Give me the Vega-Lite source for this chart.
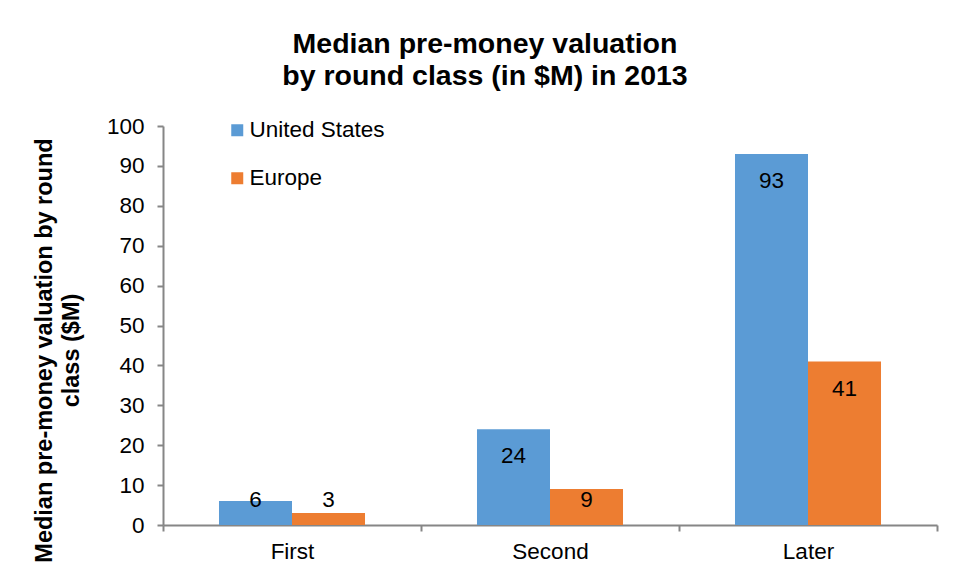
{
  "$schema": "https://vega.github.io/schema/vega-lite/v6.json",
  "width": 774,
  "height": 399,
  "autosize": {"type": "none"},
  "padding": {"left": 163, "top": 126, "right": 17, "bottom": 54},
  "background": "white",
  "title": {
    "text": ["Median pre-money valuation", "by round class (in $M) in 2013"],
    "anchor": "middle",
    "dx": -65,
    "fontSize": 28.5,
    "fontWeight": "bold",
    "font": "Liberation Sans",
    "color": "#000000",
    "lineHeight": 32,
    "baseline": "bottom",
    "offset": -4
  },
  "data": {
    "values": [
      {"round": "First", "region": "United States", "value": 6},
      {"round": "First", "region": "Europe", "value": 3},
      {"round": "Second", "region": "United States", "value": 24},
      {"round": "Second", "region": "Europe", "value": 9},
      {"round": "Later", "region": "United States", "value": 93},
      {"round": "Later", "region": "Europe", "value": 41}
    ]
  },
  "encoding": {
    "x": {
      "field": "round",
      "type": "nominal",
      "sort": ["First", "Second", "Later"],
      "scale": {"paddingInner": 0, "paddingOuter": 0},
      "axis": {
        "title": null,
        "labelAngle": 0,
        "labelPadding": 9,
        "tickBand": "extent"
      }
    },
    "xOffset": {
      "field": "region",
      "type": "nominal",
      "sort": ["United States", "Europe"],
      "scale": {"paddingInner": 0, "paddingOuter": 0.767}
    }
  },
  "layer": [
    {
      "mark": {"type": "bar"},
      "encoding": {
        "y": {
          "field": "value",
          "type": "quantitative",
          "scale": {"domain": [0, 100]},
          "axis": {
            "values": [0, 10, 20, 30, 40, 50, 60, 70, 80, 90, 100],
            "labelOverlap": false,
            "grid": false,
            "labelPadding": 13,
            "title": ["Median pre-money valuation by round", "class ($M)"],
            "titleFont": "Liberation Sans",
            "titleFontSize": 23.5,
            "titleFontWeight": "bold",
            "titleColor": "#000000",
            "titleX": -131,
            "titleY": 224,
            "titleAngle": -90,
            "titleAlign": "center",
            "titleBaseline": "top",
            "titleLineHeight": 27
          }
        },
        "color": {
          "field": "region",
          "type": "nominal",
          "sort": ["United States", "Europe"],
          "scale": {"domain": ["United States", "Europe"], "range": ["#5B9BD5", "#ED7D31"]},
          "legend": {
            "title": null,
            "orient": "none",
            "legendX": 63,
            "legendY": -7,
            "symbolType": "square",
            "symbolSize": 144,
            "symbolStrokeWidth": 0,
            "labelFontSize": 22.5,
            "labelFont": "Liberation Sans",
            "labelColor": "#000000",
            "labelOffset": 1,
            "rowPadding": 25
          }
        }
      }
    },
    {
      "transform": [{"calculate": "max(datum.value - 6.8, 6.3)", "as": "labelPos"}],
      "mark": {"type": "text", "fontSize": 22.5, "font": "Liberation Sans", "color": "#000000", "baseline": "middle"},
      "encoding": {
        "y": {
          "field": "labelPos",
          "type": "quantitative",
          "axis": {
            "values": [0, 10, 20, 30, 40, 50, 60, 70, 80, 90, 100],
            "labelOverlap": false,
            "grid": false,
            "labelPadding": 13,
            "title": ["Median pre-money valuation by round", "class ($M)"],
            "titleFont": "Liberation Sans",
            "titleFontSize": 23.5,
            "titleFontWeight": "bold",
            "titleColor": "#000000",
            "titleX": -131,
            "titleY": 224,
            "titleAngle": -90,
            "titleAlign": "center",
            "titleBaseline": "top",
            "titleLineHeight": 27
          }
        },
        "text": {"field": "value", "type": "quantitative"}
      }
    }
  ],
  "config": {
    "view": {"stroke": null},
    "axis": {
      "labelFontSize": 22.5,
      "labelFont": "Liberation Sans",
      "labelColor": "#000000",
      "tickSize": 6,
      "tickColor": "#868686",
      "tickWidth": 2,
      "domainColor": "#868686",
      "domainWidth": 2,
      "grid": false
    }
  }
}
